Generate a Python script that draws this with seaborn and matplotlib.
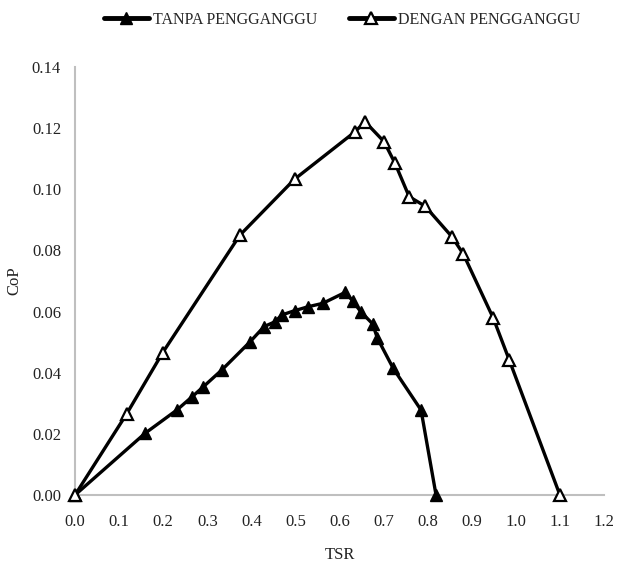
import matplotlib
matplotlib.use("Agg")
import matplotlib.pyplot as plt
import seaborn as sns
import pandas as pd
from matplotlib.lines import Line2D

# Data
tsr_tanpa = [0.0, 0.159, 0.231, 0.266, 0.291, 0.333, 0.397, 0.429, 0.454, 0.469,
             0.498, 0.529, 0.562, 0.613, 0.630, 0.648, 0.675, 0.686, 0.722, 0.785, 0.819]
cop_tanpa = [0.0, 0.0202, 0.0278, 0.0322, 0.0354, 0.0409, 0.0501, 0.0551, 0.0567, 0.0589,
             0.0603, 0.0616, 0.0627, 0.0663, 0.0635, 0.0600, 0.0560, 0.0513, 0.0414, 0.0278, 0.0]

tsr_dengan = [0.0, 0.117, 0.199, 0.374, 0.498, 0.635, 0.658, 0.701, 0.726, 0.758,
              0.794, 0.855, 0.881, 0.949, 0.985, 1.100]
cop_dengan = [0.0, 0.0265, 0.0466, 0.0850, 0.1033, 0.1188, 0.1221, 0.1156, 0.1085, 0.0976,
              0.0945, 0.0845, 0.0788, 0.0578, 0.0442, 0.0]

label_tanpa = "TANPA PENGGANGGU"
label_dengan = "DENGAN PENGGANGGU"
x_ticks = [0.0, 0.1, 0.2, 0.3, 0.4, 0.5, 0.6, 0.7, 0.8, 0.9, 1.0, 1.1, 1.2]
y_ticks = [0.00, 0.02, 0.04, 0.06, 0.08, 0.10, 0.12, 0.14]

sns.set_theme(style="white")
plt.rcParams['font.family'] = ['Liberation Serif', 'DejaVu Serif']

df_t = pd.DataFrame({"TSR": tsr_tanpa, "CoP": cop_tanpa})
df_d = pd.DataFrame({"TSR": tsr_dengan, "CoP": cop_dengan})

fig = plt.figure(figsize=(6.25, 5.69), dpi=100)
ax = fig.add_axes([0.12, 0.13, 0.8464, 0.7522])

lw = 2.4
sns.lineplot(data=df_t, x="TSR", y="CoP", sort=False, ax=ax, color="black",
             linewidth=lw, marker="^", markersize=9, markerfacecolor="black",
             markeredgecolor="black", markeredgewidth=1, clip_on=False, zorder=3)
sns.lineplot(data=df_d, x="TSR", y="CoP", sort=False, ax=ax, color="black",
             linewidth=lw, marker="^", markersize=9, markerfacecolor="white",
             markeredgecolor="black", markeredgewidth=1.6, clip_on=False, zorder=3)

ax.set_xlim(0, 1.2)
ax.set_ylim(0, 0.14)
ax.set_xticks(x_ticks)
ax.set_xticklabels([f"{v:.1f}" for v in x_ticks])
ax.set_yticks(y_ticks)
ax.set_yticklabels([f"{v:.2f}" for v in y_ticks])
ax.tick_params(axis="both", length=0, labelsize=12, colors="#222222")
ax.tick_params(axis="x", pad=14)
ax.tick_params(axis="y", pad=10)

for s in ["top", "right"]:
    ax.spines[s].set_visible(False)
for s in ["left", "bottom"]:
    ax.spines[s].set_color("#bfbfbf")
    ax.spines[s].set_linewidth(1.5)
ax.grid(False)

ax.set_xlabel("TSR", fontsize=12, labelpad=12, color="#222222")
ax.set_ylabel("CoP", fontsize=12, labelpad=7, color="#222222")

handles = [
    Line2D([], [], color="black", linewidth=3.5, marker="^", markersize=8,
           markerfacecolor="black", markeredgecolor="black"),
    Line2D([], [], color="black", linewidth=3.5, marker="^", markersize=8,
           markerfacecolor="white", markeredgecolor="black", markeredgewidth=1.6),
]
fig.legend(handles, [label_tanpa, label_dengan], loc="center", bbox_to_anchor=(0.547, 0.965),
           ncol=2, frameon=False, fontsize=11.5, handlelength=2.8, handletextpad=0.25,
           columnspacing=2.0)

fig.savefig("out.png", dpi=100, facecolor="white")
